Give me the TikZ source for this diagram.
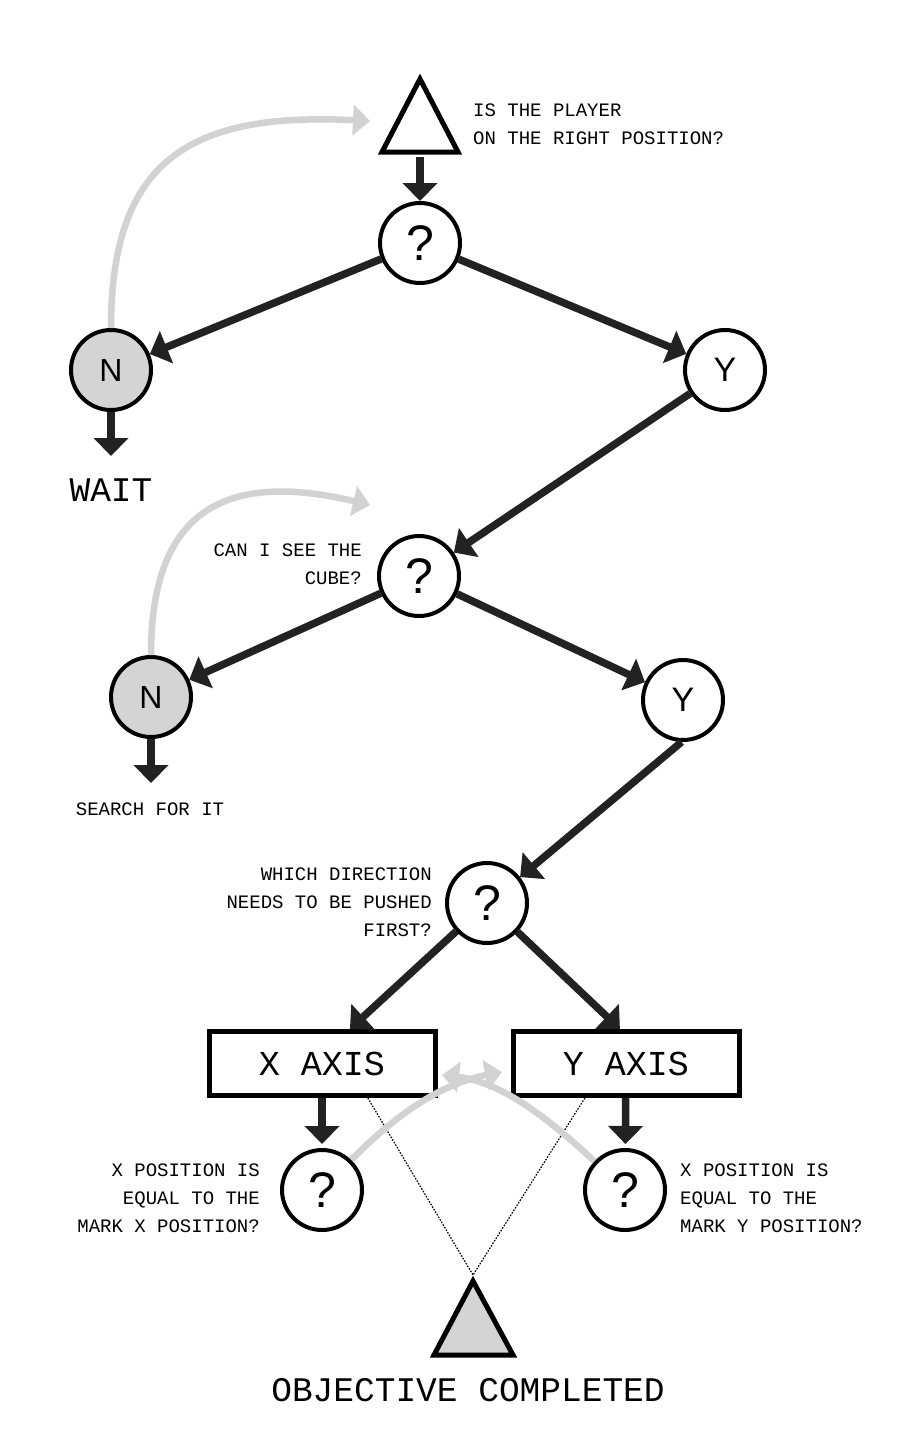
\documentclass[tikz,border=0pt]{standalone}
\usepackage{fontspec}
\setmainfont{Liberation Sans}
\newfontfamily\monofam{Liberation Mono}
\usetikzlibrary{arrows.meta}
\definecolor{darkarr}{HTML}{222222}
\definecolor{lightarr}{HTML}{D2D2D2}
\definecolor{nfill}{HTML}{D4D4D4}
\begin{document}
\begin{tikzpicture}[x=1pt,y=-1pt,
  qnode/.style={circle, draw=black, line width=4pt, fill=white, minimum size=80pt, inner sep=0pt, font=\fontsize{50}{50}\selectfont},
  nnode/.style={qnode, fill=nfill, font=\fontsize{32}{32}\selectfont},
  ynode/.style={qnode, font=\fontsize{34}{34}\selectfont},
  conn/.style={draw=darkarr, line width=7.5pt, -{Triangle[length=18pt,width=34pt]}},
  backarr/.style={draw=lightarr, line width=6.5pt, -{Triangle[length=17pt,width=30pt]}},
  smalltxt/.style={font=\monofam\fontsize{19}{28}\selectfont, inner sep=0pt},
  bigtxt/.style={font=\monofam\fontsize{34.5}{40}\selectfont, inner sep=0pt},
  axisbox/.style={draw=black, line width=5pt, fill=white, minimum width=226pt, minimum height=64pt, font=\monofam\fontsize{35}{40}\selectfont},
  tri/.style={draw=black, line width=5pt, line join=miter},
  dotline/.style={draw=black, line width=1.2pt, dash pattern=on 1.6pt off 1.4pt}
]
\fill[white] (0,0) rectangle (900,1440);
\useasboundingbox (0,0) rectangle (900,1440);

% top triangle
\draw[tri, fill=white] (420,79) -- (458,152) -- (382,152) -- cycle;
\coordinate (topT) at (420,157);
\node[smalltxt, anchor=north west, align=left] (t1) at (473,104) {IS THE PLAYER\\ON THE RIGHT POSITION?};

% first question
\node[qnode] (q1) at (420,243) {?};
\draw[conn] (topT) -- (q1);
\node[nnode] (n1) at (111,370) {N};
\node[ynode] (y1) at (725,370) {Y};
\draw[conn] (q1) -- (n1);
\draw[conn] (q1) -- (y1);
\coordinate (waitTip) at (111,456);
\draw[conn] (n1) -- (waitTip);
\node[bigtxt, anchor=north] (wait) at (111,479) {WAIT};
\coordinate (back1) at (370,121);
\draw[backarr] (n1) .. controls (111,160) and (190,112) .. (back1);

% second question
\node[qnode] (q2) at (419,576) {?};
\draw[conn] (y1) -- (q2);
\node[smalltxt, anchor=north east, align=right] (t2) at (362,544) {CAN I SEE THE\\CUBE?};
\node[nnode] (n2) at (151,697) {N};
\node[ynode] (y2) at (683,700) {Y};
\draw[conn] (q2) -- (n2);
\draw[conn] (q2) -- (y2);
\coordinate (searchTip) at (151,783);
\draw[conn] (n2) -- (searchTip);
\node[smalltxt, anchor=north] (search) at (150,803) {SEARCH FOR IT};
\coordinate (back2) at (370,505);
\draw[backarr] (n2) .. controls (151,520) and (215,468) .. (back2);

% third question
\node[qnode] (q3) at (487,903) {?};
\draw[conn] (y2.-92) -- (q3.38);
\node[smalltxt, anchor=north east, align=right] (t3) at (432,868) {WHICH DIRECTION\\NEEDS TO BE PUSHED\\FIRST?};

% axis boxes
\node[axisbox] (xb) at (322,1063.5) {X AXIS};
\node[axisbox] (yb) at (626,1063.5) {Y AXIS};
\draw[conn] (q3) -- (xb.51);
\draw[conn] (q3) -- (yb.100);

% axis questions
\node[qnode] (q4) at (322,1190) {?};
\node[qnode] (q5) at (625,1190) {?};
\draw[conn, shorten >=4pt] (xb) -- (q4);
\draw[conn, shorten >=4pt] (yb) -- (q5);
\node[smalltxt, anchor=north east, align=right] (t4) at (260,1164) {X POSITION IS\\EQUAL TO THE\\MARK X POSITION?};
\node[smalltxt, anchor=north west, align=left] (t5) at (680,1164) {X POSITION IS\\EQUAL TO THE\\MARK Y POSITION?};

% bottom triangle and dotted lines
\coordinate (apexB) at (473,1275);
\draw[dotline] (xb.-37) -- (apexB);
\draw[dotline] (yb.220) -- (apexB);
\draw[tri, fill=nfill] (473,1281) -- (513,1355) -- (434,1355) -- cycle;
\node[bigtxt, anchor=north] (obj) at (468,1378) {OBJECTIVE COMPLETED};

% grey crossing arrows
\coordinate (back3) at (502,1072);
\coordinate (back4) at (442,1075);
\draw[backarr] (q4) .. controls (405,1105) and (450,1082) .. (back3);
\draw[backarr] (q5) .. controls (545,1115) and (500,1082) .. (back4);
\end{tikzpicture}
\end{document}
